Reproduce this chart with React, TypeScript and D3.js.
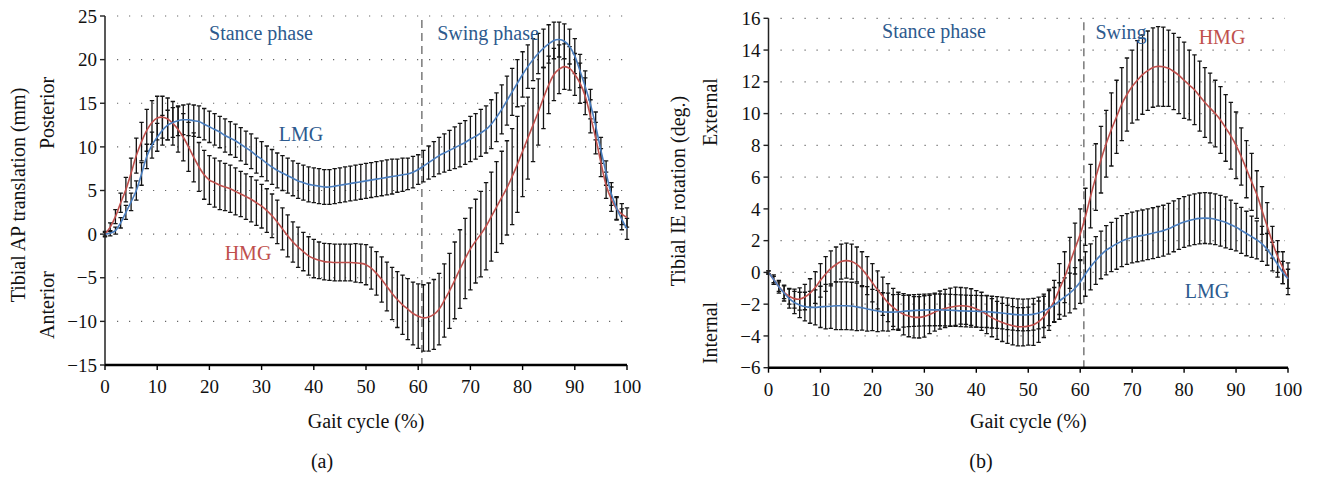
import React from 'react';
import * as d3 from 'd3';

// ---------- data ----------
const GAIT = d3.range(0, 101); // gait cycle %, one sample per percent
const X_TICKS = [0, 10, 20, 30, 40, 50, 60, 70, 80, 90, 100];
const SWING_START = 60.7;

// (a) Tibial AP translation (mm)
const AP_TICKS = [-15, -10, -5, 0, 5, 10, 15, 20, 25];
const AP_LMG_MEAN = [
  0, 0.1, 0.4, 1.3, 2.5, 3.7, 5.0, 6.9, 8.9, 10.2,
  11.1, 11.9, 12.5, 12.8, 13.0, 13.1, 13.1, 13.0, 12.9, 12.6,
  12.3, 12.0, 11.7, 11.3, 11.0, 10.7, 10.3, 9.9, 9.5, 9.0,
  8.6, 8.1, 7.7, 7.3, 7.0, 6.7, 6.4, 6.1, 5.9, 5.7,
  5.6, 5.5, 5.4, 5.4, 5.5, 5.6, 5.7, 5.8, 5.9, 6.0,
  6.1, 6.2, 6.3, 6.4, 6.5, 6.6, 6.7, 6.8, 6.9, 7.1,
  7.4, 7.8, 8.2, 8.6, 9.0, 9.3, 9.6, 9.9, 10.2, 10.5,
  10.9, 11.2, 11.6, 12.0, 12.6, 13.4, 14.3, 15.3, 16.3, 17.3,
  18.3, 19.2, 20.0, 20.7, 21.3, 21.8, 22.2, 22.3, 22.1, 21.5,
  20.4, 18.7, 16.9, 14.9, 12.4, 9.6, 7.0, 4.6, 3.0, 1.7, 0.6,
];
const AP_LMG_SD = [
  0.2, 0.3, 0.4, 0.6, 0.8, 1.0, 1.1, 1.3, 1.4, 1.5,
  1.6, 1.7, 1.7, 1.7, 1.7, 1.7, 1.8, 1.8, 1.8, 1.8,
  1.8, 1.8, 1.8, 1.9, 1.9, 1.9, 1.9, 1.9, 2.0, 2.0,
  2.0, 2.0, 2.0, 2.0, 2.0, 2.0, 2.0, 2.0, 2.0, 2.0,
  2.0, 2.0, 2.0, 2.0, 2.0, 2.0, 2.0, 2.0, 2.0, 2.0,
  2.0, 2.0, 2.0, 2.0, 2.0, 2.0, 1.9, 1.9, 1.8, 1.8,
  1.7, 1.8, 1.9, 2.0, 2.1, 2.2, 2.3, 2.4, 2.5, 2.5,
  2.6, 2.6, 2.7, 2.7, 2.8, 2.8, 2.8, 2.8, 2.7, 2.7,
  2.6, 2.5, 2.4, 2.3, 2.2, 2.2, 2.1, 2.0, 2.0, 2.0,
  2.0, 1.9, 1.8, 1.7, 1.6, 1.5, 1.4, 1.3, 1.3, 1.2, 1.2,
];
const AP_HMG_MEAN = [
  0, 0.8, 2.0, 3.6, 5.1, 7.0, 9.0, 10.6, 11.9, 12.8,
  13.3, 13.4, 13.2, 12.7, 12.0, 11.1, 10.0, 8.8, 7.7, 6.8,
  6.2, 5.9, 5.6, 5.4, 5.2, 4.9, 4.6, 4.3, 4.0, 3.6,
  3.2, 2.7, 2.1, 1.4, 0.6, -0.2, -0.9, -1.5, -2.0, -2.5,
  -2.8, -3.0, -3.15, -3.2, -3.25, -3.25, -3.25, -3.25, -3.3, -3.35,
  -3.5, -3.9, -4.5, -5.2, -6.0, -6.8, -7.5, -8.1, -8.6, -9.1,
  -9.4, -9.6, -9.5, -9.2, -8.6, -7.6, -6.5, -5.3, -4.0, -2.8,
  -1.7, -0.8, 0.0, 0.9, 2.0, 3.1, 4.2, 5.3, 6.6, 8.0,
  9.5, 11.0, 12.5, 14.0, 15.6, 17.1, 18.3, 18.9, 19.2, 19.0,
  18.3, 17.3, 15.8, 13.5, 11.0, 8.2, 5.6, 4.0, 2.9, 2.3, 1.9,
];
const AP_HMG_SD = [
  0.3, 0.5, 0.8, 1.1, 1.4, 1.7, 2.0, 2.2, 2.4, 2.5,
  2.5, 2.4, 2.4, 2.5, 2.6, 2.7, 2.8, 2.8, 2.8, 2.8,
  2.8, 2.8, 2.8, 2.7, 2.7, 2.7, 2.6, 2.6, 2.6, 2.6,
  2.5, 2.5, 2.5, 2.5, 2.4, 2.4, 2.3, 2.3, 2.2, 2.2,
  2.2, 2.1, 2.1, 2.1, 2.1, 2.1, 2.1, 2.1, 2.2, 2.2,
  2.3, 2.4, 2.5, 2.6, 2.8, 3.0, 3.2, 3.4, 3.5, 3.6,
  3.7, 3.8, 3.9, 4.0, 4.1, 4.2, 4.3, 4.4, 4.5, 4.6,
  4.7, 4.8, 4.9, 5.0, 5.1, 5.2, 5.3, 5.4, 5.5, 5.5,
  5.2, 4.7, 4.2, 3.8, 3.5, 3.3, 3.0, 2.8, 2.6, 2.5,
  2.4, 2.3, 2.1, 1.9, 1.8, 1.6, 1.5, 1.4, 1.3, 1.2, 1.1,
];

// (b) Tibial IE rotation (deg.)
const IE_TICKS = [-6, -4, -2, 0, 2, 4, 6, 8, 10, 12, 14, 16];
const IE_LMG_MEAN = [
  0, -0.45, -0.9, -1.3, -1.65, -1.9, -2.05, -2.15, -2.2, -2.2,
  -2.17, -2.15, -2.13, -2.1, -2.1, -2.1, -2.12, -2.17, -2.23, -2.3,
  -2.37, -2.43, -2.48, -2.5, -2.5, -2.48, -2.45, -2.42, -2.4, -2.38,
  -2.37, -2.36, -2.36, -2.36, -2.37, -2.38, -2.4, -2.42, -2.43, -2.44,
  -2.45, -2.46, -2.47, -2.5, -2.53, -2.56, -2.6, -2.64, -2.67, -2.68,
  -2.67, -2.63, -2.56, -2.42, -2.25, -2.05, -1.8, -1.55, -1.3, -1.0,
  -0.6, -0.1, 0.35, 0.75, 1.1, 1.4, 1.6, 1.8, 1.97, 2.1,
  2.2, 2.27, 2.33, 2.4, 2.47, 2.55, 2.63, 2.75, 2.9, 3.05,
  3.17, 3.27, 3.35, 3.4, 3.42, 3.4, 3.35, 3.25, 3.15, 3.0,
  2.85, 2.65, 2.45, 2.25, 2.05, 1.8, 1.45, 1.0, 0.5, 0.0, -0.4,
];
const IE_LMG_SD = [
  0.1, 0.3, 0.4, 0.5, 0.6, 0.7, 0.8, 0.9, 1.0, 1.1,
  1.3, 1.4, 1.4, 1.5, 1.5, 1.5, 1.5, 1.5, 1.4, 1.4,
  1.3, 1.3, 1.2, 1.2, 1.1, 1.1, 1.0, 1.0, 1.0, 1.0,
  1.0, 1.0, 1.0, 1.0, 1.0, 1.0, 1.0, 1.0, 1.0, 1.0,
  1.0, 1.0, 1.0, 1.0, 1.0, 1.0, 1.0, 1.0, 1.0, 1.0,
  1.0, 1.0, 1.0, 1.05, 1.1, 1.1, 1.15, 1.2, 1.25, 1.3,
  1.35, 1.4, 1.45, 1.5, 1.5, 1.55, 1.55, 1.6, 1.6, 1.6,
  1.6, 1.6, 1.6, 1.6, 1.6, 1.6, 1.6, 1.6, 1.6, 1.6,
  1.6, 1.6, 1.6, 1.6, 1.6, 1.6, 1.6, 1.6, 1.6, 1.55,
  1.5, 1.45, 1.4, 1.3, 1.2, 1.1, 1.0, 0.9, 0.8, 0.7, 0.6,
];
const IE_HMG_MEAN = [
  0, -0.45, -0.9, -1.25, -1.5, -1.65, -1.68, -1.55, -1.3, -0.95,
  -0.5, -0.1, 0.25, 0.5, 0.68, 0.74, 0.68, 0.5, 0.2, -0.2,
  -0.65, -1.1, -1.5, -1.9, -2.2, -2.45, -2.63, -2.75, -2.82, -2.83,
  -2.77, -2.65, -2.5, -2.37, -2.27, -2.19, -2.13, -2.1, -2.12, -2.18,
  -2.3, -2.45, -2.65, -2.85, -3.02, -3.15, -3.27, -3.36, -3.42, -3.42,
  -3.38, -3.3, -3.1, -2.8, -2.35, -1.8, -1.05, -0.3, 0.6, 1.5,
  2.4, 3.5, 4.8, 6.0, 7.1, 8.1, 9.0, 9.8, 10.6, 11.2,
  11.7, 12.1, 12.45, 12.7, 12.9, 12.97, 12.95, 12.85, 12.65, 12.4,
  12.1, 11.8, 11.5, 11.1, 10.7, 10.35, 10.0, 9.6, 9.1, 8.6,
  8.0, 7.3, 6.5, 5.7, 4.9, 3.9, 2.9, 1.9, 1.0, 0.3, -0.4,
];
const IE_HMG_SD = [
  0.1, 0.2, 0.3, 0.4, 0.5, 0.6, 0.7, 0.8, 0.9, 1.0,
  1.05, 1.1, 1.1, 1.1, 1.1, 1.1, 1.1, 1.1, 1.1, 1.2,
  1.2, 1.2, 1.2, 1.2, 1.2, 1.2, 1.3, 1.3, 1.3, 1.3,
  1.3, 1.2, 1.2, 1.2, 1.2, 1.2, 1.2, 1.15, 1.15, 1.15,
  1.15, 1.2, 1.2, 1.2, 1.2, 1.2, 1.2, 1.2, 1.2, 1.2,
  1.2, 1.3, 1.3, 1.3, 1.3, 1.3, 1.6, 1.6, 1.6, 1.6,
  1.6, 1.8, 2.0, 2.1, 2.1, 2.1, 2.3, 2.3, 2.3, 2.3,
  2.3, 2.5, 2.5, 2.5, 2.5, 2.5, 2.5, 2.4, 2.4, 2.4,
  2.4, 2.2, 2.2, 2.2, 2.2, 2.2, 2.1, 2.1, 2.1, 2.1,
  2.1, 1.8, 1.8, 1.8, 1.5, 1.5, 1.5, 1.0, 1.0, 1.0, 1.0,
];

// ---------- style ----------
const FONT = "'Liberation Serif', 'Times New Roman', serif";
const LINE_BLUE = '#4a7ebf';
const LINE_RED = '#c0504d';
const TEXT_BLUE = '#2d5a8e';
const TEXT_RED = '#c0504d';

type Label = { text: string; x: number; y: number; color: string };

type PanelProps = {
  x0: number; x1: number; yTop: number; yBot: number;
  yTicks: number[];
  lmg: number[]; lmgSd: number[]; hmg: number[]; hmgSd: number[];
  title: string; titlePos: [number, number];
  upper: string; upperPos: [number, number];
  lower: string; lowerPos: [number, number];
  caption: string; captionX: number;
  labels: Label[];
};

function Panel(p: PanelProps) {
  const x = d3.scaleLinear().domain([0, 100]).range([p.x0, p.x1]);
  const y = d3
    .scaleLinear()
    .domain([p.yTicks[0], p.yTicks[p.yTicks.length - 1]])
    .range([p.yBot, p.yTop]);
  const line = d3
    .line<number>()
    .x((_, i) => x(GAIT[i]))
    .y((d) => y(d))
    .curve(d3.curveCatmullRom.alpha(0.5));

  const bars = (mean: number[], sd: number[]) =>
    GAIT.map((g, i) => {
      const xi = x(g);
      const yt = y(mean[i] + sd[i]);
      const yb = y(mean[i] - sd[i]);
      return `M${xi - 2.2},${yt}H${xi + 2.2}M${xi},${yt}V${yb}M${xi - 2.2},${yb}H${xi + 2.2}`;
    }).join('');

  const xMid = (p.x0 + p.x1) / 2;
  return (
    <g fontFamily={FONT}>
      {/* grid */}
      {p.yTicks.slice(1).map((t) => (
        <line
          key={'g' + t}
          x1={p.x0 + 12}
          x2={p.x1 - 3}
          y1={y(t)}
          y2={y(t)}
          stroke="#666"
          strokeWidth={1.2}
          strokeDasharray="1.2 10.8"
        />
      ))}
      {/* swing phase divider */}
      <line
        x1={x(SWING_START)}
        x2={x(SWING_START)}
        y1={p.yTop + 4}
        y2={p.yBot}
        stroke="#7a7a7a"
        strokeWidth={1.5}
        strokeDasharray="8 5"
      />
      {/* error bars */}
      <path d={bars(p.lmg, p.lmgSd)} stroke="#141414" strokeWidth={1.3} fill="none" />
      <path d={bars(p.hmg, p.hmgSd)} stroke="#141414" strokeWidth={1.3} fill="none" />
      {/* mean lines */}
      <path d={line(p.hmg) || ''} stroke={LINE_RED} strokeWidth={1.6} fill="none" />
      <path d={line(p.lmg) || ''} stroke={LINE_BLUE} strokeWidth={1.6} fill="none" />
      {/* axes */}
      <line x1={p.x0} x2={p.x0} y1={p.yTop} y2={p.yBot} stroke="#222" strokeWidth={1.5} />
      {p.yTicks.map((t) => (
        <g key={'y' + t}>
          <line x1={p.x0 - 5} x2={p.x0} y1={y(t)} y2={y(t)} stroke="#222" strokeWidth={1.4} />
          <text x={p.x0 - 8} y={y(t)} dy="0.35em" textAnchor="end" fontSize={19} fill="#111">
            {t < 0 ? '\u2212' + Math.abs(t) : String(t)}
          </text>
        </g>
      ))}
      <line x1={p.x0} x2={p.x1} y1={p.yBot} y2={p.yBot} stroke="#000" strokeWidth={2.6} />
      {X_TICKS.map((t) => (
        <g key={'x' + t}>
          <line x1={x(t)} x2={x(t)} y1={p.yBot} y2={p.yBot + 5} stroke="#000" strokeWidth={1.4} />
          <text x={x(t)} y={p.yBot + 28} textAnchor="middle" fontSize={19} fill="#111">
            {t}
          </text>
        </g>
      ))}
      {/* titles */}
      <text x={xMid} y={428} textAnchor="middle" fontSize={20} fill="#111">
        Gait cycle (%)
      </text>
      <text x={p.captionX} y={468} textAnchor="middle" fontSize={20} fill="#111">
        {p.caption}
      </text>
      <text
        transform={`translate(${p.titlePos[0]},${p.titlePos[1]}) rotate(-90)`}
        textAnchor="middle"
        dy="0.35em"
        fontSize={20}
        fill="#111"
      >
        {p.title}
      </text>
      <text
        transform={`translate(${p.upperPos[0]},${p.upperPos[1]}) rotate(-90)`}
        textAnchor="middle"
        dy="0.35em"
        fontSize={20}
        fill="#111"
      >
        {p.upper}
      </text>
      <text
        transform={`translate(${p.lowerPos[0]},${p.lowerPos[1]}) rotate(-90)`}
        textAnchor="middle"
        dy="0.35em"
        fontSize={20}
        fill="#111"
      >
        {p.lower}
      </text>
      {p.labels.map((l) => (
        <text key={l.text + l.x} x={l.x} y={l.y} textAnchor="middle" fontSize={20} fill={l.color}>
          {l.text}
        </text>
      ))}
    </g>
  );
}

export default function App() {
  return (
    <svg
      width={1318}
      height={479}
      viewBox="0 0 1318 479"
      style={{ position: 'absolute', left: 0, top: 0, background: '#fff' }}
    >
      <rect width={1318} height={479} fill="#fff" />
      <Panel
        x0={105}
        x1={627}
        yTop={16}
        yBot={365}
        yTicks={AP_TICKS}
        lmg={AP_LMG_MEAN}
        lmgSd={AP_LMG_SD}
        hmg={AP_HMG_MEAN}
        hmgSd={AP_HMG_SD}
        title="Tibial AP translation (mm)"
        titlePos={[18, 195]}
        upper="Posterior"
        upperPos={[47, 113]}
        lower="Anterior"
        lowerPos={[47, 305]}
        caption="(a)"
        captionX={322}
        labels={[
          { text: 'Stance phase', x: 261, y: 40, color: TEXT_BLUE },
          { text: 'Swing phase', x: 488, y: 40, color: TEXT_BLUE },
          { text: 'LMG', x: 301, y: 141, color: TEXT_BLUE },
          { text: 'HMG', x: 248, y: 260, color: TEXT_RED },
        ]}
      />
      <Panel
        x0={768.5}
        x1={1288}
        yTop={18.3}
        yBot={367.7}
        yTicks={IE_TICKS}
        lmg={IE_LMG_MEAN}
        lmgSd={IE_LMG_SD}
        hmg={IE_HMG_MEAN}
        hmgSd={IE_HMG_SD}
        title="Tibial IE rotation (deg.)"
        titlePos={[678, 191]}
        upper="External"
        upperPos={[710, 112]}
        lower="Internal"
        lowerPos={[710, 333]}
        caption="(b)"
        captionX={981}
        labels={[
          { text: 'Stance phase', x: 934, y: 38, color: TEXT_BLUE },
          { text: 'Swing', x: 1121, y: 39, color: TEXT_BLUE },
          { text: 'HMG', x: 1222, y: 44, color: TEXT_RED },
          { text: 'LMG', x: 1207, y: 298, color: TEXT_BLUE },
        ]}
      />
    </svg>
  );
}
